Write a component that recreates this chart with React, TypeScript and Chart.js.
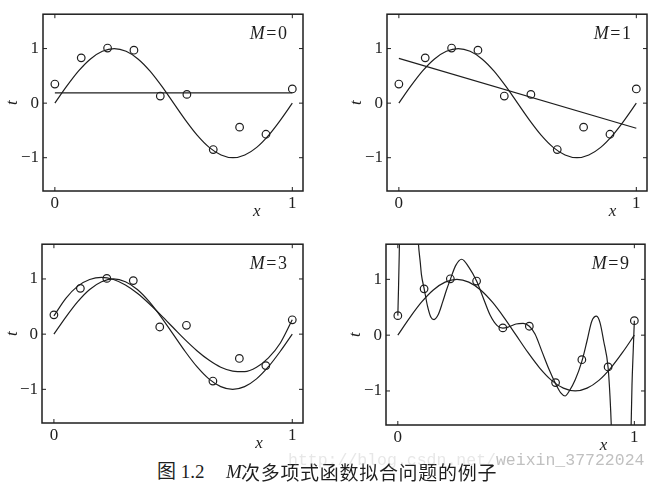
import React, { useEffect, useRef } from "react";
import { Chart, registerables } from "chart.js";
Chart.register(...registerables);

// ---- data ----
const obsX = [0, 0.111, 0.222, 0.333, 0.444, 0.556, 0.667, 0.778, 0.889, 1];
const obsT = [0.35, 0.83, 1.01, 0.97, 0.13, 0.16, -0.85, -0.44, -0.57, 0.26];

const gridX = [0, 0.05, 0.1, 0.15, 0.2, 0.25, 0.3, 0.35, 0.4, 0.45, 0.5, 0.55, 0.6, 0.65, 0.7, 0.75, 0.8, 0.85, 0.9, 0.95, 1];
const trueT = [0, 0.31, 0.59, 0.81, 0.95, 1.0, 0.95, 0.81, 0.59, 0.31, 0, -0.31, -0.59, -0.81, -0.95, -1.0, -0.95, -0.81, -0.59, -0.31, 0];

const fitM0X = [0, 1];
const fitM0T = [0.19, 0.19];

const fitM1X = [0, 1];
const fitM1T = [0.82, -0.46];

const fitM3T = [0.33, 0.65, 0.87, 0.99, 1.03, 0.99, 0.89, 0.74, 0.55, 0.34, 0.12, -0.1, -0.3, -0.47, -0.6, -0.67, -0.68, -0.6, -0.43, -0.16, 0.26];

const fitM9X = [0, 0.003, 0.006, 0.01, 0.02, 0.07, 0.08, 0.087, 0.095, 0.1, 0.111, 0.125, 0.14, 0.153, 0.17, 0.19, 0.205, 0.222, 0.245, 0.27, 0.3, 0.333, 0.36, 0.39, 0.42, 0.444, 0.47, 0.5, 0.53, 0.556, 0.58, 0.61, 0.64, 0.667, 0.69, 0.707, 0.725, 0.75, 0.778, 0.8, 0.82, 0.84, 0.855, 0.87, 0.889, 0.897, 0.903, 0.91, 0.98, 0.986, 0.99, 0.995, 1];
const fitM9T = [0.35, 0.85, 1.45, 2.4, 3.5, 3.5, 2.3, 1.65, 1.3, 1.08, 0.84, 0.53, 0.32, 0.28, 0.36, 0.6, 0.8, 1.0, 1.25, 1.36, 1.22, 0.97, 0.68, 0.36, 0.17, 0.125, 0.15, 0.2, 0.21, 0.16, 0.02, -0.3, -0.62, -0.87, -1.04, -1.09, -1.0, -0.8, -0.47, -0.1, 0.25, 0.34, 0.22, -0.1, -0.58, -1.1, -1.7, -3, -3, -1.7, -0.9, -0.3, 0.26];

const xTickValues = [0, 1];
const yTickValues = [-1, 0, 1];

const xTitle = "x";
const yTitle = "t";
const captionFig = "图 1.2";
const captionM = "M";
const captionText = "次多项式函数拟合问题的例子";
const watermarkA = "http://blog.csdn.net/";
const watermarkB = "weixin_37722024";

// ---- styles ----
const INK = "#1e1e1e";
const SERIF = '"Liberation Serif", "Times New Roman", serif';

type PanelCfg = {
  order: number;
  fitX: number[];
  fitT: number[];
  left: number;
  top: number;
  pad: { left: number; right: number; top: number; bottom: number };
  yw: number;
  xh: number;
  xLabelAt: number;
};

const panels: PanelCfg[] = [
  { order: 0, fitX: fitM0X, fitT: fitM0T, left: 0, top: 0, pad: { left: 0, right: 27, top: 9, bottom: 0 }, yw: 43, xh: 39, xLabelAt: 0.85 },
  { order: 1, fitX: fitM1X, fitT: fitM1T, left: 330, top: 0, pad: { left: 14, right: 13, top: 10, bottom: 0 }, yw: 43, xh: 39, xLabelAt: 0.9 },
  { order: 3, fitX: gridX, fitT: fitM3T, left: 0, top: 230, pad: { left: 0, right: 27, top: 13, bottom: 0 }, yw: 42, xh: 37, xLabelAt: 0.86 },
  { order: 9, fitX: fitM9X, fitT: fitM9T, left: 330, top: 230, pad: { left: 13, right: 15, top: 13, bottom: 0 }, yw: 43, xh: 35, xLabelAt: 0.87 },
];

const framePlugin = {
  id: "frame",
  afterDraw(chart: any, _args: any, opts: any) {
    const { ctx, chartArea: a, scales } = chart;
    ctx.save();
    ctx.strokeStyle = INK;
    ctx.lineWidth = 1.5;
    ctx.strokeRect(a.left, a.top, a.right - a.left, a.bottom - a.top);
    ctx.lineWidth = 1;
    const seg = (x1: number, y1: number, x2: number, y2: number) => {
      ctx.beginPath();
      ctx.moveTo(x1, y1);
      ctx.lineTo(x2, y2);
      ctx.stroke();
    };
    for (const v of yTickValues) {
      const y = scales.y.getPixelForValue(v);
      seg(a.left, y, a.left + 4, y);
      seg(a.right - 4, y, a.right, y);
    }
    for (const v of xTickValues) {
      const x = scales.x.getPixelForValue(v);
      seg(x, a.bottom, x, a.bottom - 4);
      seg(x, a.top, x, a.top + 4);
    }
    // M=order label
    ctx.fillStyle = INK;
    ctx.textBaseline = "middle";
    ctx.textAlign = "left";
    const size = 18;
    ctx.font = `${size}px ${SERIF}`;
    const wEq = ctx.measureText("=").width;
    const wNum = ctx.measureText(String(opts.order)).width;
    ctx.font = `italic ${size}px ${SERIF}`;
    const wM = ctx.measureText("M").width;
    const gap = 1.5;
    const right = a.right - 16;
    const y = a.top + 20;
    let x = right - wNum - wEq - 2 * gap - wM;
    ctx.fillText("M", x, y);
    x += wM + gap;
    ctx.font = `${size}px ${SERIF}`;
    ctx.fillText("=", x, y);
    x += wEq + gap;
    ctx.fillText(String(opts.order), x, y);
    // x axis title
    ctx.font = `italic 17px ${SERIF}`;
    ctx.textAlign = "center";
    ctx.fillText(xTitle, scales.x.getPixelForValue(opts.xLabelAt), a.bottom + 21);
    ctx.restore();
  },
};

const fmt = (v: number) => (v < 0 ? "\u2212" + Math.abs(v) : String(v));

function Panel({ cfg }: { cfg: PanelCfg }) {
  const ref = useRef<HTMLCanvasElement>(null);
  useEffect(() => {
    const pts = (xs: number[], ys: number[]) => xs.map((x, i) => ({ x, y: ys[i] }));
    const lineStyle = {
      showLine: true,
      borderColor: INK,
      borderWidth: 1.2,
      pointRadius: 0,
      cubicInterpolationMode: "monotone" as const,
      fill: false,
      clip: 0,
    };
    const chart = new Chart(ref.current!, {
      type: "line",
      data: {
        datasets: [
          { data: pts(gridX, trueT), ...lineStyle },
          { data: pts(cfg.fitX, cfg.fitT), ...lineStyle },
          {
            data: pts(obsX, obsT),
            showLine: false,
            pointRadius: 3.8,
            pointBorderWidth: 1.2,
            pointBorderColor: INK,
            pointBackgroundColor: "rgba(0,0,0,0)",
            borderColor: INK,
          },
        ],
      },
      options: {
        animation: false,
        responsive: false,
        events: [],
        layout: { padding: cfg.pad },
        plugins: {
          legend: { display: false },
          tooltip: { enabled: false },
          // @ts-ignore
          frame: { order: cfg.order, xLabelAt: cfg.xLabelAt },
        },
        scales: {
          x: {
            type: "linear",
            min: -0.05,
            max: 1.045,
            grid: { display: false, drawTicks: false },
            border: { display: false },
            afterBuildTicks: (s: any) => {
              s.ticks = xTickValues.map((v) => ({ value: v }));
            },
            afterFit: (s: any) => {
              s.height = cfg.xh;
            },
            ticks: {
              autoSkip: false,
              maxRotation: 0,
              padding: 2,
              color: INK,
              font: { family: SERIF, size: 17 },
              callback: (v: any) => fmt(Number(v)),
            },
          },
          y: {
            type: "linear",
            min: -1.61,
            max: 1.63,
            grid: { display: false, drawTicks: false },
            border: { display: false },
            afterBuildTicks: (s: any) => {
              s.ticks = yTickValues.map((v) => ({ value: v }));
            },
            afterFit: (s: any) => {
              s.width = cfg.yw;
            },
            ticks: {
              autoSkip: false,
              padding: 4,
              color: INK,
              font: { family: SERIF, size: 17 },
              callback: (v: any) => fmt(Number(v)),
            },
            title: {
              display: true,
              text: yTitle,
              color: INK,
              font: { family: SERIF, size: 17, style: "italic" },
              padding: { top: 2, bottom: 0 },
            },
          },
        },
      },
      plugins: [framePlugin],
    });
    return () => chart.destroy();
  }, [cfg]);
  return (
    <canvas
      ref={ref}
      width={330}
      height={230}
      style={{ position: "absolute", left: cfg.left, top: cfg.top, width: 330, height: 230 }}
    />
  );
}

export default function App() {
  return (
    <div style={{ position: "fixed", left: 0, top: 0, width: 660, height: 489, background: "#fff", overflow: "hidden" }}>
      {panels.map((p) => (
        <Panel key={p.order} cfg={p} />
      ))}
      <div style={{ position: "absolute", left: 157, top: 461, fontFamily: '"Liberation Serif", "Noto Sans CJK SC", serif', fontSize: 19, lineHeight: "22px", color: INK, whiteSpace: "nowrap" }}>
        {captionFig}
      </div>
      <div style={{ position: "absolute", left: 226, top: 461, fontFamily: SERIF, fontStyle: "italic", fontSize: 19, lineHeight: "22px", color: INK }}>
        {captionM}
      </div>
      <div style={{ position: "absolute", left: 241, top: 461, fontFamily: '"Noto Sans CJK SC", sans-serif', fontSize: 19, letterSpacing: "0.7px", lineHeight: "22px", color: INK, whiteSpace: "nowrap" }}>
        {captionText}
      </div>
      <div style={{ position: "absolute", left: 288, top: 451, fontFamily: '"Liberation Mono", monospace', fontSize: 16.5, lineHeight: "20px", whiteSpace: "nowrap" }}>
        <span style={{ color: "rgba(160,160,160,0.25)" }}>{watermarkA}</span>
        <span style={{ color: "rgba(150,150,150,0.6)" }}>{watermarkB}</span>
      </div>
    </div>
  );
}
